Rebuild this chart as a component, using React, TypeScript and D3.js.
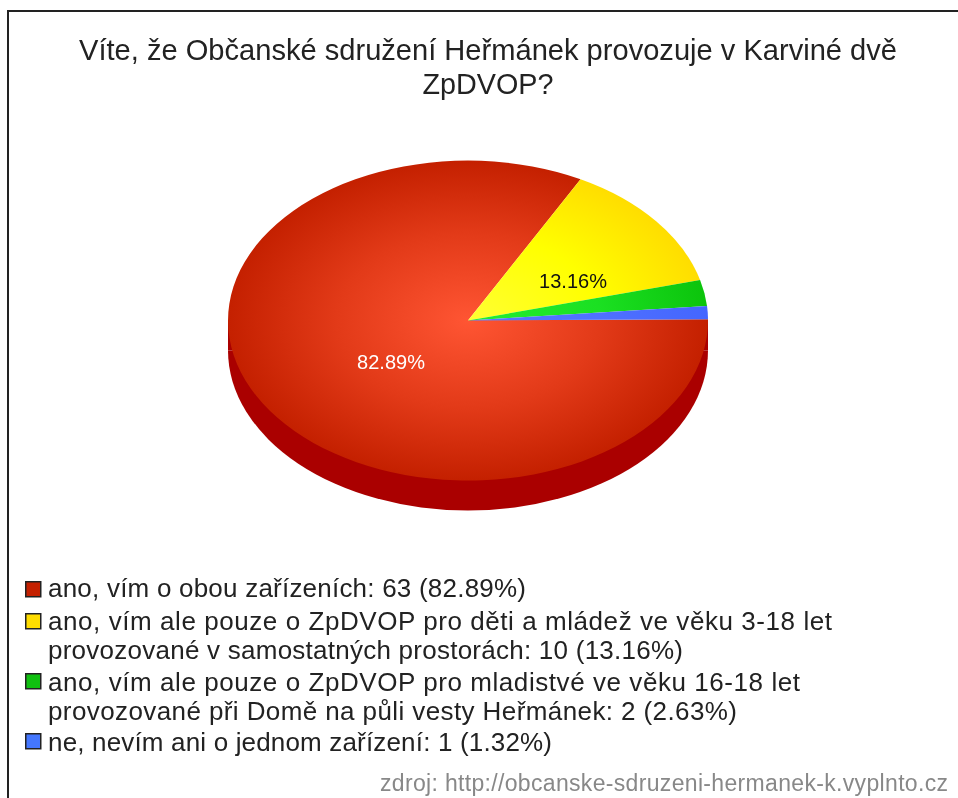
import React from "react";
import * as d3 from "d3";

const categories = [
  ["ano, vím o obou zařízeních: 63 (82.89%)"],
  ["ano, vím ale pouze o ZpDVOP pro děti a mládež ve věku 3-18 let", "provozované v samostatných prostorách: 10 (13.16%)"],
  ["ano, vím ale pouze o ZpDVOP pro mladistvé ve věku 16-18 let", "provozované při Domě na půli vesty Heřmánek: 2 (2.63%)"],
  ["ne, nevím ani o jednom zařízení: 1 (1.32%)"],
];
const values = [63, 10, 2, 1];
const titleLines = ["Víte, že Občanské sdružení Heřmánek provozuje v Karviné dvě", "ZpDVOP?"];
const sliceStops = [
  ["#ff5533", "#e23a18", "#c42000"],
  ["#ffff33", "#ffff00", "#ffdd00"],
  ["#22ee33", "#1be022", "#0cc40c"],
  ["#5577ff", "#4f70ff", "#4466ff"],
];
const legendFill = ["#c42000", "#ffdd00", "#10c010", "#4477ff"];
const sliceLabels = ["82.89%", "13.16%"];
const labelPos: [number, number][] = [[391, 362], [573, 281]];
const legendY = [588, 621, 650, 682, 711, 742];
const legendSquareY = [581, 613, 673, 733];
const legendWidths = [478, 784, 635, 752, 689, 504];
const source = "zdroj: http://obcanske-sdruzeni-hermanek-k.vyplnto.cz";

const W = 958, H = 798, cx = 468, cy = 320.5, rx = 240, ry = 160, depth = 30;
const FONT = "'Liberation Sans', Arial, sans-serif";

export default function App() {
  const rot = -0.008;
  const arcs = d3.pie<number>().sort(null).startAngle(Math.PI / 2 + rot).endAngle(Math.PI / 2 + 2 * Math.PI + rot)(values);
  const arc = d3.arc<any>().innerRadius(0).outerRadius(1);
  const bottom = arc({ startAngle: Math.PI / 2, endAngle: (3 * Math.PI) / 2 })!;
  let lineIdx = 0;
  return (
    <svg width={W} height={H} viewBox={`0 0 ${W} ${H}`} style={{ position: "absolute", left: 0, top: 0, background: "#fff" }}>
      <defs>
        {sliceStops.map((c, i) => (
          <radialGradient key={i} id={`g${i}`} gradientUnits="userSpaceOnUse" cx={0} cy={0} r={1}>
            <stop offset="0" stopColor={c[0]} />
            <stop offset="0.55" stopColor={c[1]} />
            <stop offset="1" stopColor={c[2]} />
          </radialGradient>
        ))}
        <filter id="soft" filterUnits="userSpaceOnUse" x={0} y={0} width={W} height={H} colorInterpolationFilters="sRGB">
          <feGaussianBlur stdDeviation="0.7" />
        </filter>
      </defs>
      <rect x={8} y={11} width={W} height={H} fill="#fff" stroke="#222" strokeWidth={2} />
      <g filter="url(#soft)">
        <g transform={`translate(${cx},${cy + depth}) scale(${rx},${ry})`}>
          <path d={bottom} fill="#aa0000" />
        </g>
        <rect x={cx - rx} y={cy} width={2 * rx} height={depth} fill="#aa0000" />
        <g transform={`translate(${cx},${cy}) scale(${rx},${ry})`}>
          {arcs.map((a, i) => (
            <path key={i} d={arc(a)!} fill={`url(#g${i})`} />
          ))}
        </g>
      </g>
      <g fontFamily={FONT} filter="url(#soft)">
        {titleLines.map((t, i) => (
          <text key={i} x={488} y={60 + i * 34} textAnchor="middle" fontSize={29} fill="#222" textLength={i === 0 ? 818 : 131} lengthAdjust="spacingAndGlyphs">{t}</text>
        ))}
        {sliceLabels.map((t, i) => (
          <text key={i} x={labelPos[i][0]} y={labelPos[i][1]} textAnchor="middle" dominantBaseline="central" fontSize={20} fill={i === 0 ? "#fff" : "#111"}>{t}</text>
        ))}
        {categories.map((lines, i) => {
          const row = (
            <g key={i}>
              <rect x={25.75} y={legendSquareY[i] + 0.75} width={15} height={15} fill={legendFill[i]} stroke="#222" strokeWidth={1.5} />
              {lines.map((t, j) => {
                const y = legendY[lineIdx + j];
                return <text key={j} x={48} y={y} dominantBaseline="central" fontSize={26} fill="#222" textLength={legendWidths[lineIdx + j]} lengthAdjust="spacing">{t}</text>;
              })}
            </g>
          );
          lineIdx += lines.length;
          return row;
        })}
        <text x={380} y={791} fontSize={23} fill="#888" textLength={568} lengthAdjust="spacing">{source}</text>
      </g>
    </svg>
  );
}
